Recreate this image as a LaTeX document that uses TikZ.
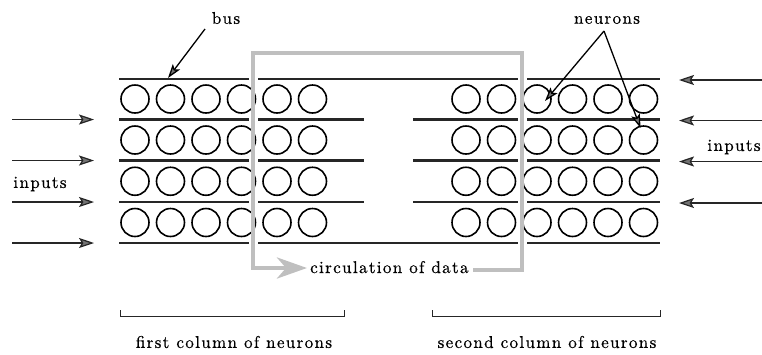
\documentclass[tikz,border=0pt]{standalone}
\usepackage{fontspec}
\newfontfamily\lblfont{lmroman10-regular.otf}[LetterSpace=8, FakeBold=0.6]
\usetikzlibrary{arrows.meta,calc}
\begin{document}
\begin{tikzpicture}[x=1pt,y=-1pt,
  busline/.style={line width=2.6pt, draw=black!85},
  neuron/.style={circle, draw=black, line width=1.6pt, minimum size=28pt, inner sep=0pt},
  inarrow/.style={line width=1.2pt, draw=black!85,
    -{Stealth[length=15pt,width=10pt,inset=3pt,fill=black!55]}},
  pointer/.style={line width=1.3pt, draw=black,
    -{Stealth[length=14pt,width=9pt,inset=3pt,fill=black!55]}},
  flow/.style={line width=4.5pt, draw=black!25},
  flowgap/.style={line width=9pt, draw=white},
  bracketline/.style={line width=1pt, draw=black!85},
  lbl/.style={font=\lblfont\fontsize{17}{19}\selectfont, inner sep=0pt}]

\useasboundingbox (0,0) rectangle (762,354);

% bus lines: y positions
\def\busA{79}\def\busB{119.5}\def\busC{160.5}\def\busD{202}\def\busE{243}

% full-length buses (top and bottom)
\coordinate (T1) at (119,\busA); \coordinate (T2) at (660,\busA);
\coordinate (B1) at (119,\busE); \coordinate (B2) at (660,\busE);
\draw[busline] (T1) -- (T2);
\draw[busline] (B1) -- (B2);
% inner buses of both columns
\foreach \y [count=\i] in {\busB,\busC,\busD}{
  \coordinate (Ls\i) at (119,\y); \coordinate (Le\i) at (364,\y);
  \coordinate (Rs\i) at (413,\y); \coordinate (Re\i) at (660,\y);
  \draw[busline] (Ls\i) -- (Le\i);
  \draw[busline] (Rs\i) -- (Re\i);
}

% circulation loop corners
\coordinate (g1) at (253,268);
\coordinate (g2) at (253,53);
\coordinate (g3) at (522,53);
\coordinate (g4) at (522,270);
\coordinate (g5) at (473,270);
\coordinate (ga) at (307,268);

% white gaps where the loop crosses the buses
\draw[flowgap] (g1) -- (g2) -- (g3) -- (g4);

% neurons
\foreach \y [count=\r] in {99,140,181.25,222.5}{
  \foreach \c in {1,...,6}{
    \node[neuron] (L-\r-\c) at ({135+35.5*(\c-1)},\y) {};
    \node[neuron] (R-\r-\c) at ({466+35.5*(\c-1)},\y) {};
  }
}

% circulation of data
\draw[flow, line cap=butt] (g5) -- (g4) -- (g3) -- (g2) -- (g1);
\draw[draw=black!25, line width=4.5pt,
  -{Stealth[length=30pt,width=21pt,inset=9pt,fill=black!25]}] ($(g1)+(-2.25,0)$) -- (ga);
\node[lbl, anchor=base west] (circ) at (310,273) {circulation of data};

% inputs on the left
\foreach \y [count=\i] in {\busB,\busC,\busD,\busE}{
  \coordinate (la\i) at (12,\y); \coordinate (lb\i) at (94,\y);
  \draw[inarrow] (la\i) -- (lb\i);
}
% inputs on the right
\foreach \y [count=\i] in {\busA,\busB,\busC,\busD}{
  \coordinate (ra\i) at (762,\y+1); \coordinate (rb\i) at (679,\y+1);
  \draw[inarrow] (ra\i) -- (rb\i);
}
\node[lbl] (inL) at (40,184) {inputs};
\node[lbl] (inR) at (734,147) {inputs};

% bus label
\node[lbl] (bus) at (226,18) {bus};
\coordinate (busTip) at (168,78);
\draw[pointer] (205,29) -- (busTip);

% neurons label
\node[lbl] (neu) at (607,20) {neurons};
\coordinate (apex) at (604,31);
\draw[pointer] (apex) -- ($(R-1-3.center)+(8,2)$);
\draw[pointer] (apex) -- ($(R-2-6.center)+(-3,-12)$);

% column brackets
\coordinate (b1a) at (120,316); \coordinate (b1b) at (344,316);
\coordinate (b2a) at (432,316); \coordinate (b2b) at (660,316);
\draw[bracketline] ($(b1a)+(0,-6)$) -- (b1a) -- (b1b) -- ($(b1b)+(0,-6)$);
\draw[bracketline] ($(b2a)+(0,-6)$) -- (b2a) -- (b2b) -- ($(b2b)+(0,-6)$);
\node[lbl] (c1) at (234,342) {first column of neurons};
\node[lbl] (c2) at (547,342) {second column of neurons};
\end{tikzpicture}
\end{document}
